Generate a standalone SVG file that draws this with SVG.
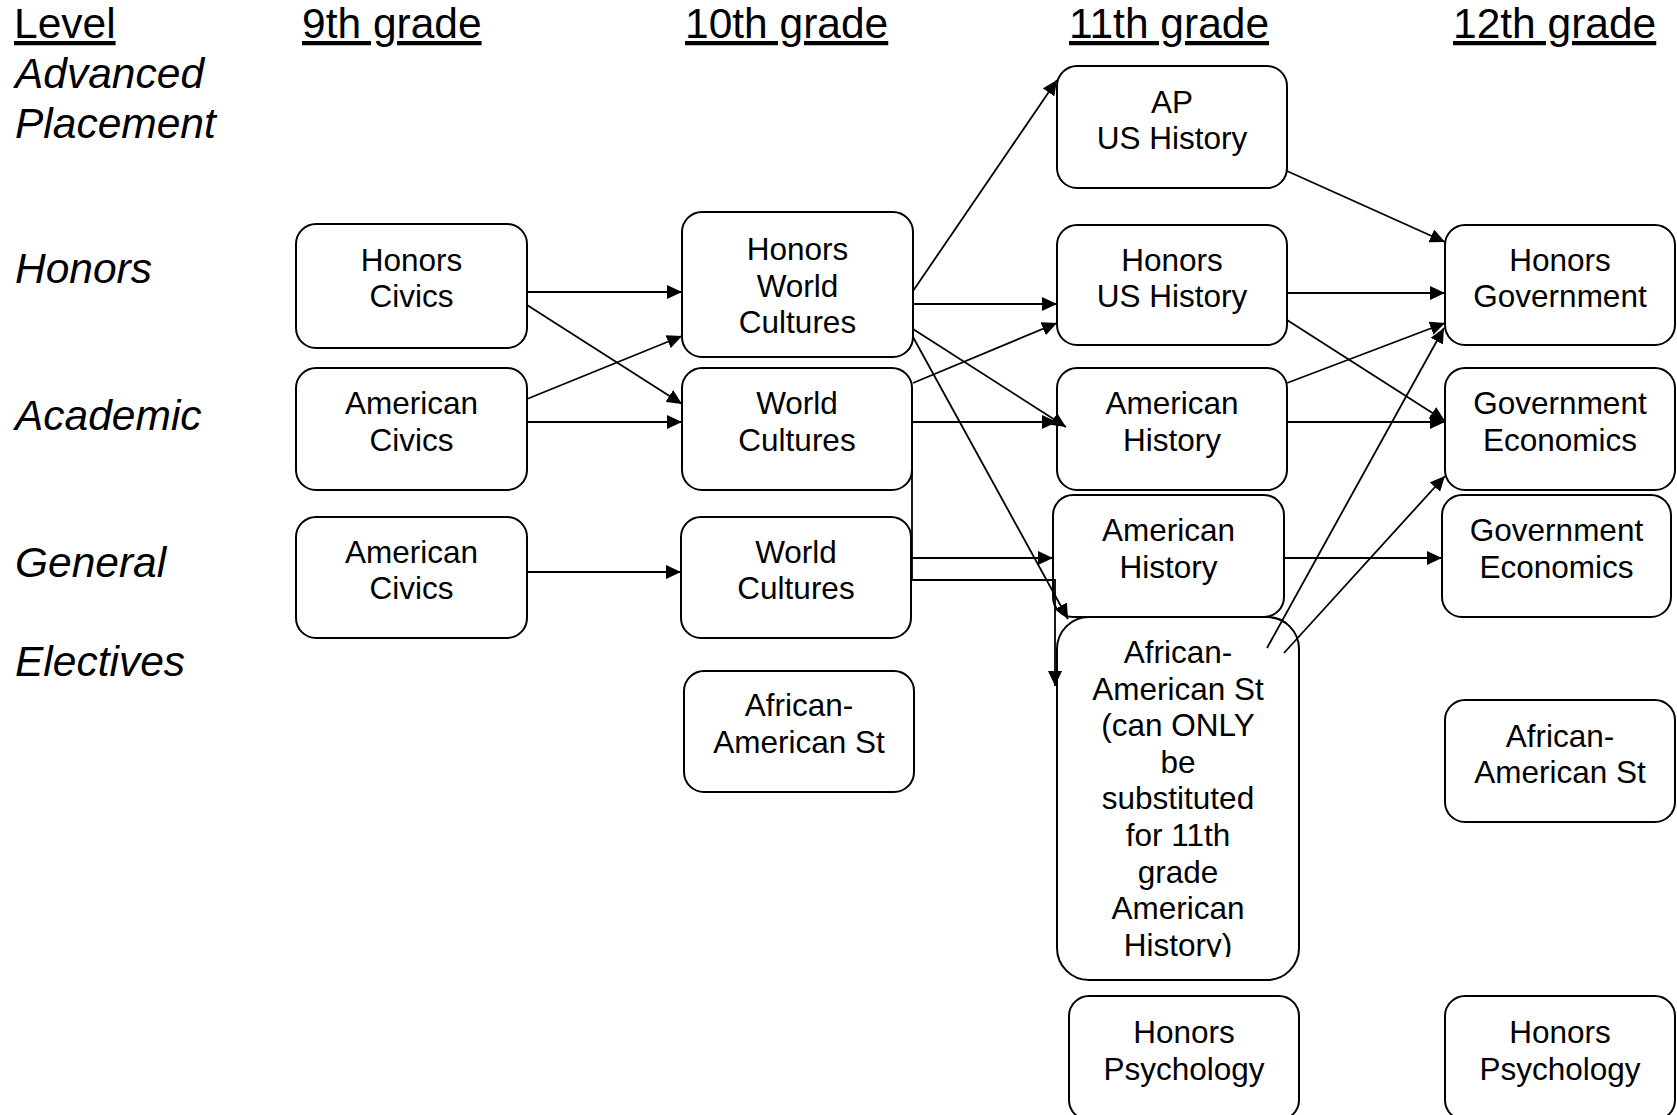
<svg xmlns="http://www.w3.org/2000/svg" width="1677" height="1115" viewBox="0 0 1677 1115">
<style>
.box{fill:#fff;stroke:#000;stroke-width:2}
.t{font-family:"Liberation Sans",Arial,sans-serif;font-size:31.5px;text-anchor:middle;fill:#000}
.h{font-family:"Liberation Sans",Arial,sans-serif;font-size:42.5px;text-decoration:underline;fill:#000}
.lab{font-family:"Liberation Sans",Arial,sans-serif;font-size:42.5px;font-style:italic;fill:#000}
.c{fill:none;stroke:#000;stroke-width:1.8;marker-end:url(#arr)}
</style>
<defs>
<marker id="arr" viewBox="0 0 15 14" refX="15" refY="7" markerWidth="15" markerHeight="14" markerUnits="userSpaceOnUse" orient="auto"><path d="M0,0 L15,7 L0,14 z" fill="#000"/></marker>
<clipPath id="clipE"><rect x="1050" y="610" width="260" height="347"/></clipPath>
</defs>
<rect width="1677" height="1115" fill="#fff"/>
<g id="headers">
<text class="h" x="14" y="38">Level</text>
<text class="h" x="302" y="38">9th grade</text>
<text class="h" x="685" y="38">10th grade</text>
<text class="h" x="1069" y="38">11th grade</text>
<text class="h" x="1453" y="38">12th grade</text>
</g>
<g id="levels">
<text class="lab" x="15" y="88">Advanced</text>
<text class="lab" x="15" y="138">Placement</text>
<text class="lab" x="15" y="283">Honors</text>
<text class="lab" x="15" y="430">Academic</text>
<text class="lab" x="15" y="577">General</text>
<text class="lab" x="15" y="676">Electives</text>
</g>
<g id="n9h"><rect class="box" x="296" y="224" width="231" height="124" rx="20"/><text class="t" x="411.5" y="271">Honors</text><text class="t" x="411.5" y="307">Civics</text></g>
<g id="n9a"><rect class="box" x="296" y="368" width="231" height="122" rx="20"/><text class="t" x="411.5" y="414">American</text><text class="t" x="411.5" y="451">Civics</text></g>
<g id="n9g"><rect class="box" x="296" y="517" width="231" height="121" rx="20"/><text class="t" x="411.5" y="563">American</text><text class="t" x="411.5" y="599">Civics</text></g>
<g id="n10h"><rect class="box" x="682" y="212" width="231" height="145" rx="20"/><text class="t" x="797.5" y="260">Honors</text><text class="t" x="797.5" y="297">World</text><text class="t" x="797.5" y="333">Cultures</text></g>
<g id="n10a"><rect class="box" x="682" y="368" width="230" height="122" rx="20"/><text class="t" x="797" y="414">World</text><text class="t" x="797" y="451">Cultures</text></g>
<g id="n10g"><rect class="box" x="681" y="517" width="230" height="121" rx="20"/><text class="t" x="796" y="563">World</text><text class="t" x="796" y="599">Cultures</text></g>
<g id="n10e"><rect class="box" x="684" y="671" width="230" height="121" rx="20"/><text class="t" x="799" y="716">African-</text><text class="t" x="799" y="753">American St</text></g>
<g id="n11ap"><rect class="box" x="1057" y="66" width="230" height="122" rx="20"/><text class="t" x="1172" y="113">AP</text><text class="t" x="1172" y="149">US History</text></g>
<g id="n11h"><rect class="box" x="1057" y="225" width="230" height="120" rx="20"/><text class="t" x="1172" y="271">Honors</text><text class="t" x="1172" y="307">US History</text></g>
<g id="n11a"><rect class="box" x="1057" y="368" width="230" height="122" rx="20"/><text class="t" x="1172" y="414">American</text><text class="t" x="1172" y="451">History</text></g>
<g id="n11g"><rect class="box" x="1053" y="495" width="231" height="122" rx="20"/><text class="t" x="1168.5" y="541">American</text><text class="t" x="1168.5" y="578">History</text></g>
<g id="n11e"><rect class="box" x="1057" y="617" width="242" height="363" rx="32"/>
<g clip-path="url(#clipE)">
<text class="t" x="1178" y="663">African-</text>
<text class="t" x="1178" y="699.5">American St</text>
<text class="t" x="1178" y="736">(can ONLY</text>
<text class="t" x="1178" y="772.5">be</text>
<text class="t" x="1178" y="809">substituted</text>
<text class="t" x="1178" y="846">for 11th</text>
<text class="t" x="1178" y="882.5">grade</text>
<text class="t" x="1178" y="919">American</text>
<text class="t" x="1178" y="956">History)</text>
</g></g>
<g id="n11p"><rect class="box" x="1069" y="996" width="230" height="124" rx="20"/><text class="t" x="1184" y="1043">Honors</text><text class="t" x="1184" y="1080">Psychology</text></g>
<g id="n12h"><rect class="box" x="1445" y="225" width="230" height="120" rx="20"/><text class="t" x="1560" y="271">Honors</text><text class="t" x="1560" y="307">Government</text></g>
<g id="n12a"><rect class="box" x="1445" y="368" width="230" height="122" rx="20"/><text class="t" x="1560" y="414">Government</text><text class="t" x="1560" y="451">Economics</text></g>
<g id="n12g"><rect class="box" x="1442" y="495" width="229" height="122" rx="20"/><text class="t" x="1556.5" y="541">Government</text><text class="t" x="1556.5" y="578">Economics</text></g>
<g id="n12e"><rect class="box" x="1445" y="700" width="230" height="122" rx="20"/><text class="t" x="1560" y="747">African-</text><text class="t" x="1560" y="783">American St</text></g>
<g id="n12p"><rect class="box" x="1445" y="996" width="230" height="124" rx="20"/><text class="t" x="1560" y="1043">Honors</text><text class="t" x="1560" y="1080">Psychology</text></g>
<g id="connectors">
<path class="c" d="M527,292 L682,292"/>
<path class="c" d="M527,305 L682,404"/>
<path class="c" d="M527,399 L682,336"/>
<path class="c" d="M527,422 L682,422"/>
<path class="c" d="M527,572 L681,572"/>
<path class="c" d="M913,291 L1057,80"/>
<path class="c" d="M913,304 L1057,304"/>
<path class="c" d="M913,329 L1066,427"/>
<path class="c" d="M913,337 L1068,619"/>
<path class="c" d="M913,383 L1057,323"/>
<path class="c" d="M913,422 L1057,422"/>
<path class="c" d="M912,468 L912,580 L1055,580 L1055,686"/>
<path class="c" d="M912,558 L1053,558"/>
<path class="c" d="M1287,171 L1445,242"/>
<path class="c" d="M1287,293 L1445,293"/>
<path class="c" d="M1287,320 L1445,421"/>
<path class="c" d="M1287,383 L1445,323"/>
<path class="c" d="M1287,422 L1445,422"/>
<path class="c" d="M1284,558 L1442,558"/>
<path class="c" d="M1267,648 L1444,328"/>
<path class="c" d="M1284,653 L1445,476"/>
</g>
</svg>
